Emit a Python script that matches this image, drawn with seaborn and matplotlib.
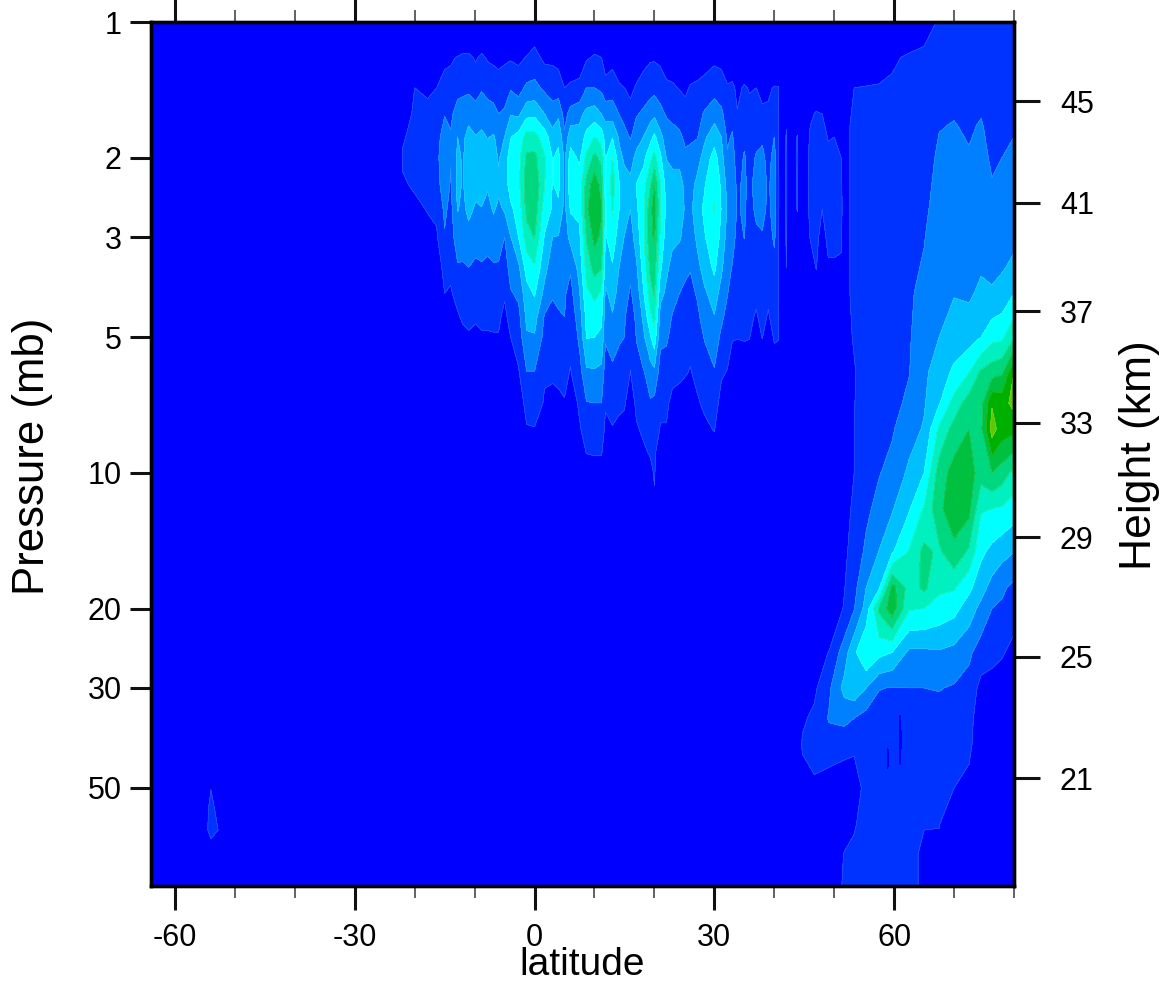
import numpy as np
import matplotlib
matplotlib.use("Agg")
import matplotlib.pyplot as plt
import seaborn as sns

LEVELS = [1, 2, 3, 4, 5, 6, 7, 8, 9, 10, 100]
BACKGROUND = "#0000FF"
FILL_COLOURS = ["#0033FF", "#0080FF", "#00BFFF", "#00FFFF", "#00F0C0",
                "#00D880", "#00C040", "#00B000", "#60C800", "#60C800"]

PRESSURE_TICKS = [1, 2, 3, 5, 10, 20, 30, 50]
LAT_MAJOR = [-60, -30, 0, 30, 60]
LAT_MINOR = [-50, -40, -20, -10, 10, 20, 40, 50, 70, 80]
HEIGHT_LABELS = [45, 41, 37, 33, 29, 25, 21]
HEIGHT_PRESSURE = [1.50, 2.52, 4.38, 7.74, 13.9, 25.6, 47.6]

# Tropical band: one list per latitude, top (low pressure) to bottom
TROPIC_P = [1.05, 1.2, 1.4, 1.6, 1.8, 2, 2.3, 2.6, 3, 3.5, 4, 4.5, 5, 6, 7, 8, 9, 10, 11, 12]
TROPIC_LAT = [-23, -22, -20, -17.83, -16.33, -15, -14, -12.83, -12, -11, -9.83, -8.83, -7.83,
              -6.83, -6, -5, -4, -2.67, -1.33, 0, 1.67, 3, 4, 5, 6, 7.5, 8.67, 10, 11.17, 11.83,
              13, 14.17, 15, 16, 17, 18.17, 19.33, 20, 21, 22, 23, 24.17, 25.17, 26, 27.17, 28.33,
              30, 31.17, 32.17, 33, 33.83, 35, 35.83, 37, 38, 39, 40, 40.67, 41.33, 42, 42.67,
              43.83, 44.5, 45.33, 46, 47, 48, 49, 50, 51.17, 51.83]
TROPIC_VALUES = [
    [0],
    [0, 0, 0, .4, .9, 1.1, .9, .3],
    [0, .2, 1.0, 1.2, 1.3, 1.3, 1.1, .8, .2],
    [0, 0, .9, 1.15, 1.3, 1.4, 1.3, 1.05, .7, .2],
    [0, 0, 1.0, 1.3, 1.6, 1.7, 1.5, 1.15, .9, .3],
    [0, .7, 1.5, 1.95, 2.5, 2.8, 2.7, 2.2, 1.9, 1.4, 1.0, .5],
    [0, .9, 1.3, 1.8, 2.1, 2.05, 1.9, 1.7, 1.6, 1.2, .9, .4],
    [0, 1.05, 1.7, 2.4, 3.0, 3.2, 3.3, 3.05, 2.5, 1.9, 1.3, .9, .3],
    [0, 1.2, 1.8, 2.4, 2.8, 2.9, 2.9, 2.8, 2.4, 1.9, 1.4, 1.15, .7, .1],
    [0, 1.2, 1.8, 2.7, 3.3, 3.5, 3.5, 3.2, 2.7, 2.0, 1.5, 1.2, .9, .2],
    [0, .9, 1.6, 2.4, 3.05, 3.4, 3.2, 2.9, 2.4, 1.8, 1.4, 1.1, .8],
    [0, 1.2, 1.9, 2.6, 3.2, 3.5, 3.4, 2.95, 2.4, 1.9, 1.4, 1.2, .9],
    [0, .9, 1.7, 2.4, 2.95, 3.4, 3.1, 2.7, 2.3, 1.8, 1.4, 1.2, .9],
    [0, .8, 1.6, 2.3, 3.1, 3.4, 3.3, 3.1, 2.5, 1.9, 1.4, 1.15, .95, .2],
    [0, .7, 1.5, 2.0, 2.6, 2.9, 3.2, 2.8, 2.4, 1.9, 1.4, 1.15, .95],
    [0, .8, 1.7, 2.1, 3.0, 3.4, 3.5, 3.1, 2.0, 1.5, 1.1, .8, .4],
    [0, .9, 1.9, 2.95, 3.95, 4.5, 4.4, 3.8, 2.95, 2.4, 1.9, 1.3, 1.0, .5],
    [0, .8, 1.6, 2.8, 4.4, 4.7, 4.7, 4.4, 4.0, 2.8, 2.2, 1.7, 1.4, .9, .3],
    [.3, 1.05, 2.2, 3.7, 5.4, 6.2, 6.6, 6.3, 5.5, 4.4, 3.6, 3.2, 2.9, 1.95, 1.4, .9, .3],
    [.6, 1.3, 2.3, 3.8, 5.4, 6.3, 6.8, 6.6, 6.05, 4.9, 4.1, 3.4, 2.9, 1.95, 1.5, .95, .3],
    [0, .8, 1.8, 3.0, 4.5, 5.1, 5.05, 4.5, 3.9, 3.3, 2.7, 1.9, 1.7, 1.1, .9, .3],
    [0, .8, 1.6, 2.4, 3.4, 3.95, 3.95, 3.9, 3.0, 2.5, 2.05, 1.85, 1.6, 1.1, .8, .2],
    [0, .7, 1.5, 2.8, 3.8, 4.2, 4.2, 3.8, 2.95, 2.5, 2.2, 1.9, 1.6, 1.2, .8, .2],
    [0, .4, 1.0, 1.6, 2.2, 2.8, 2.85, 2.7, 2.5, 2.3, 2.1, 2.0, 1.7, 1.2, .95, .3],
    [0, .6, 1.1, 2.4, 3.6, 4.4, 4.7, 4.1, 3.3, 2.1, 1.7, 1.4, 1.2, .95, .5],
    [0, .6, 1.2, 2.7, 3.4, 3.8, 4.5, 4.2, 3.8, 3.4, 2.9, 2.5, 2.2, 1.6, 1.15, .9, .4],
    [0, .9, 2.0, 3.3, 4.3, 5.3, 6.4, 6.8, 6.1, 5.4, 4.8, 4.3, 4.05, 2.8, 1.95, 1.4, 1.05, .3],
    [.4, 1.1, 2.0, 3.5, 5.0, 6.3, 7.6, 7.9, 7.3, 6.4, 5.2, 4.6, 4.0, 2.85, 2.0, 1.5, 1.1, .5],
    [0, 1.0, 1.8, 3.0, 4.6, 5.7, 6.7, 7.1, 6.8, 6.05, 4.9, 4.2, 3.8, 2.7, 2.0, 1.5, 1.1, .4],
    [0, .6, 1.3, 2.7, 3.6, 3.9, 3.9, 3.9, 3.9, 3.5, 2.8, 2.4, 2.1, 1.5, 1.1, .8, .3],
    [0, .7, 1.5, 2.6, 3.95, 5.05, 5.5, 5.1, 4.5, 3.9, 3.4, 2.9, 2.4, 1.8, 1.25, .95, .3],
    [0, .5, 1.1, 1.95, 2.8, 3.3, 4.0, 3.95, 3.5, 2.95, 2.6, 2.3, 2.1, 1.6, 1.15, .8, .2],
    [0, .3, 1.0, 1.6, 2.4, 2.8, 3.5, 3.5, 2.95, 2.6, 2.3, 2.1, 2.0, 1.4, 1.1, .7],
    [0, 0, .8, 1.3, 1.9, 2.7, 3.2, 3.0, 2.6, 2.2, 1.9, 1.5, 1.2, .98, .5],
    [0, .5, 1.1, 1.9, 2.7, 3.2, 4.05, 3.8, 3.4, 2.85, 2.4, 2.2, 2.05, 1.6, 1.2, .9, .3],
    [0, .7, 1.4, 2.2, 3.0, 3.7, 4.6, 4.8, 4.8, 4.4, 3.9, 3.2, 2.8, 1.9, 1.5, 1.15, .85, .3],
    [0, .9, 1.6, 2.6, 3.7, 4.8, 6.0, 6.7, 6.8, 6.3, 5.6, 4.8, 3.9, 2.5, 1.9, 1.5, 1.1, .7],
    [.1, .9, 1.7, 2.8, 4.2, 5.4, 7.1, 7.6, 7.1, 6.5, 6.1, 5.4, 4.6, 2.7, 1.75, 1.4, 1.2, 1.1, .95],
    [0, .8, 1.5, 2.3, 3.3, 4.2, 5.1, 5.1, 4.8, 4.2, 3.3, 2.6, 2.2, 1.6, 1.15, .95, .3],
    [0, .5, 1.2, 1.9, 2.5, 2.95, 3.6, 3.8, 3.5, 3.2, 2.8, 2.4, 2.15, 1.5, 1.15, .95, .3],
    [0, .4, 1.15, 1.8, 2.3, 2.8, 3.3, 3.4, 3.2, 2.7, 2.3, 1.95, 1.7, 1.2, .8, .3],
    [0, .3, .95, 1.6, 2.2, 2.8, 3.3, 3.4, 3.1, 2.5, 2.0, 1.8, 1.5, 1.1, .8, .3],
    [0, .2, .8, 1.4, 1.8, 2.2, 2.8, 2.9, 2.7, 2.2, 1.8, 1.5, 1.3, 1.05, .6],
    [0, .3, 1.1, 1.4, 1.9, 2.2, 2.6, 2.8, 2.5, 2.05, 1.75, 1.4, 1.2, .95, .5],
    [0, .4, 1.2, 1.6, 1.95, 2.6, 3.3, 3.5, 3.2, 2.7, 2.1, 1.8, 1.5, 1.2, .9, .4],
    [0, .5, 1.4, 2.1, 2.8, 3.4, 3.9, 4.2, 3.9, 3.4, 2.8, 2.4, 2.05, 1.5, 1.15, .8, .3],
    [0, .8, 1.6, 2.6, 3.6, 4.4, 4.9, 5.05, 4.7, 4.2, 3.5, 2.95, 2.5, 1.9, 1.4, 1.05, .6, .1],
    [0, .7, 1.5, 2.2, 3.0, 3.4, 3.8, 3.95, 3.7, 3.2, 2.6, 2.2, 1.8, 1.1, .7, .2],
    [0, .4, 1.1, 1.5, 1.85, 2.1, 2.7, 2.9, 2.6, 2.3, 2.05, 1.7, 1.4, .95, .4],
    [0, .3, 1.2, 1.7, 2.1, 2.4, 2.6, 2.7, 2.4, 1.95, 1.5, 1.2, 1.05, .6],
    [0, 0, .8, 1.05, 1.3, 1.5, 1.8, 1.9, 1.7, 1.4, 1.2, 1.1, 1.02, .6],
    [0, .3, 1.1, 1.4, 1.8, 2.1, 2.2, 2.15, 2.02, 1.6, 1.3, 1.15, 1.05, .6],
    [0, .1, .95, 1.2, 1.4, 1.6, 1.7, 1.65, 1.5, 1.3, 1.2, 1.1, 1.03, .5],
    [0, .2, 1.0, 1.3, 1.7, 2.1, 2.4, 2.2, 1.8, 1.4, 1.1, .95, .6],
    [0, 0, .7, 1.2, 1.8, 2.3, 2.5, 2.3, 1.9, 1.5, 1.3, 1.15, 1.03, .4],
    [0, .1, .9, 1.1, 1.3, 1.6, 1.8, 1.8, 1.5, 1.3, 1.1, .95, .5],
    [0, .3, 1.05, 1.5, 2.0, 2.4, 2.6, 2.4, 2.2, 1.6, 1.3, 1.2, 1.1, .5],
    [0, .2, 1.05, 1.1, 1.1, 1.1, 1.2, 1.2, 1.1, 1.1, 1.1, 1.1, 1.05, .4],
    [0],
    [0, 0, 0, .8, 1.1, 1.2, 1.2, 1.2, 1.1, 1.0, .5],
    [0],
    [0, 0, 0, .5, 1.05, 1.2, 1.1, 1.05, .5],
    [0],
    [0, 0, 0, .5, .7, .7, .7, .7, .6, .3],
    [0, 0, 0, .9, 1.1, 1.2, 1.3, 1.2, 1.05, .5],
    [0, 0, .6, 1.05, 1.3, 1.4, 1.4, 1.3, 1.2, 1.05, .5],
    [0, 0, .5, 1.0, 1.3, 1.4, 1.2, 1.0, .7, .2],
    [0, 0, 0, .7, .95, 1.2, 1.3, 1.4, 1.2, .9, .3],
    [0, 0, 0, .8, 1.0, 1.2, 1.3, 1.4, 1.2, .9, .3],
    [0, 0, 0, .4, .8, 1.0, 1.2, 1.3, 1.1, .9, .3],
    [0],
]

# Polar band: one list per latitude, top to bottom
POLAR_P = [1, 1.2, 1.4, 1.7, 2, 2.5, 3, 3.5, 4, 5, 6, 7, 8, 10, 12, 15, 18, 20, 25, 30, 35, 40, 50, 60, 70, 83]
POLAR_LAT = [43.67, 44.67, 46.67, 49.17, 51.67, 53.33, 55.33, 57.5, 59.67, 62.5, 65, 67.5, 70,
             72.5, 74.5, 76.33, 78, 80]
POLAR_VALUES = [
    [0] * 26,
    [0] * 19 + [.3, .85, 1.1, .6, 0, 0, 0],
    [0] * 18 + [.4, .8, 1.2, 1.4, .8, 0, 0, 0],
    [0] * 18 + [1.05, 1.85, 2.1, 1.5, .5, 0, 0, 0],
    [0, 0, .5, .8, .8, .8, .8, .8, .8, .8, .8, .8, .8, .8, .8, .8, .95, 1.1, 2.5, 3.3, 2.3, 1.3, .4, .3, 1.05, 1.2],
    [0, .2, 1.0, 1.15, 1.15, 1.15, 1.15, 1.15, 1.15, 1.05, .95, .98, 1.0, 1.0, 1.1, 1.4, 1.7, 1.95, 3.8, 3.7, 2.0, 1.1, .7, .95, 1.1, 1.1],
    [0, .3, 1.05, 1.1, 1.1, 1.15, 1.2, 1.2, 1.25, 1.25, 1.3, 1.3, 1.4, 1.6, 1.8, 2.2, 3.0, 3.4, 5.0, 3.0, 1.6, 1.3, 1.2, 1.2, 1.2, 1.2],
    [0, .4, 1.1, 1.2, 1.2, 1.25, 1.3, 1.3, 1.35, 1.4, 1.45, 1.5, 1.6, 1.95, 2.3, 3.05, 3.9, 6.2, 4.3, 2.05, 1.4, 1.3, 1.3, 1.3, 1.3, 1.3],
    [.2, .9, 1.1, 1.2, 1.25, 1.3, 1.35, 1.4, 1.45, 1.5, 1.55, 1.7, 1.9, 2.3, 2.9, 3.9, 7.4, 7.6, 4.0, 1.95, 1.5, 1.4, 1.3, 1.3, 1.3, 1.3],
    [.4, 1.1, 1.2, 1.3, 1.4, 1.55, 1.65, 1.75, 1.85, 1.9, 1.97, 2.2, 2.6, 3.2, 3.9, 5.1, 5.6, 5.1, 2.8, 2.0, 1.6, 1.4, 1.3, 1.3, 1.3, 1.3],
    [.8, 1.1, 1.2, 1.35, 1.5, 1.75, 1.95, 2.1, 2.3, 2.6, 2.8, 2.9, 3.1, 4.0, 5.1, 6.3, 6.2, 5.0, 2.8, 2.0, 1.6, 1.4, 1.2, 1.05, .8, .8],
    [1.05, 1.2, 1.5, 1.95, 2.2, 2.4, 2.6, 2.7, 2.8, 3.0, 3.5, 3.9, 5.2, 6.5, 6.8, 5.8, 5.2, 4.6, 2.9, 2.05, 1.6, 1.4, 1.2, 1.05, .7, .5],
    [1.1, 1.3, 1.7, 2.05, 2.2, 2.4, 2.6, 2.8, 2.95, 3.5, 4.2, 5.4, 6.4, 7.4, 7.6, 6.7, 5.1, 4.3, 2.7, 1.9, 1.5, 1.3, 1.0, .2, 0, 0],
    [1.1, 1.3, 1.6, 1.85, 2.1, 2.25, 2.4, 2.6, 2.85, 3.6, 5.0, 6.5, 7.0, 7.6, 7.3, 5.8, 4.2, 3.5, 2.2, 1.6, 1.4, 1.3, .6, 0, 0, 0],
    [1.2, 1.4, 1.6, 2.1, 2.3, 2.5, 2.7, 2.9, 3.2, 4.0, 6.2, 6.6, 6.8, 6.4, 5.1, 4.2, 3.4, 2.7, 1.5, .7, .3, .1, 0, 0, 0, 0],
    [1.2, 1.3, 1.4, 1.6, 1.85, 2.2, 2.5, 2.8, 3.1, 4.7, 6.6, 8.9, 9.4, 7.0, 5.0, 3.7, 2.6, 2.0, 1.3, .6, .2, 0, 0, 0, 0, 0],
    [1.2, 1.3, 1.5, 1.7, 2.0, 2.3, 2.6, 2.9, 3.4, 4.8, 6.9, 8.6, 8.5, 6.5, 4.9, 3.3, 2.2, 1.8, 1.1, .5, .2, 0, 0, 0, 0, 0],
    [1.3, 1.4, 1.6, 1.9, 2.2, 2.5, 2.8, 3.2, 4.0, 5.9, 9.0, 9.3, 8.3, 5.7, 4.5, 3.0, 1.7, 1.4, .7, .3, 0, 0, 0, 0, 0, 0],
]

# Isolated patch near 54S
PATCH_LAT = [-55.17, -54, -52.5]
PATCH_P = [48, 50.5, 56, 62, 69]
PATCH_VALUES = [
    [0, 0, .5, .5, 0],
    [.5, 1.0, 1.3, 1.4, .4],
    [0, 0, .6, .9, 0],
]

# Two narrow holes inside the polar band near 59N and 61N
HOLE_A_LAT = [60.5, 61, 61.5]
HOLE_A_P = [32.7, 35, 39, 43.7, 46.6]
HOLE_A_VALUES = [[0, 0, 0, 0, 0], [0, 1.3, 1.5, 1.3, 0], [0, 0, 0, 0, 0]]
HOLE_B_LAT = [58.7, 58.95, 59.2]
HOLE_B_P = [39, 41, 43, 45, 47.4]
HOLE_B_VALUES = [[0, 0, 0, 0, 0], [0, 1.1, 1.5, 1.1, 0], [0, 0, 0, 0, 0]]

sns.set_style("white")
plt.rcParams["font.family"] = ["Liberation Sans", "DejaVu Sans"]
plt.rcParams["text.color"] = "black"
fills = sns.color_palette(FILL_COLOURS)

W, H = 1170, 986
fig = plt.figure(figsize=(W / 100, H / 100), dpi=100)
ax = fig.add_axes([151 / W, 1 - 886 / H, 863 / W, 864 / H])
ax.set_facecolor(BACKGROUND)


def draw(lat, pres, columns, n):
    table = np.array([list(c) + [0] * (n - len(c)) for c in columns], dtype=float).T
    ax.contourf(lat, pres, table, levels=LEVELS, colors=fills)
    ax.contour(lat, pres, table, levels=LEVELS[:-1], colors="white", linewidths=0.4, alpha=0.22)


draw(TROPIC_LAT, TROPIC_P, TROPIC_VALUES, len(TROPIC_P))
draw(POLAR_LAT, POLAR_P, POLAR_VALUES, len(POLAR_P))
draw(PATCH_LAT, PATCH_P, PATCH_VALUES, len(PATCH_P))
for hole_lat, hole_p, hole_v in [(HOLE_A_LAT, HOLE_A_P, HOLE_A_VALUES), (HOLE_B_LAT, HOLE_B_P, HOLE_B_VALUES)]:
    ax.contourf(hole_lat, hole_p, np.array(hole_v).T, levels=[1, 100], colors=[BACKGROUND])

ax.set_yscale("log")
ax.set_ylim(82.5, 1)
ax.set_xlim(-64, 79.85)
ax.yaxis.set_minor_locator(matplotlib.ticker.NullLocator())
ax.set_yticks(PRESSURE_TICKS)
ax.set_yticklabels([str(p) for p in PRESSURE_TICKS])
ax.set_xticks(LAT_MAJOR)
ax.set_xticklabels([str(v) for v in LAT_MAJOR])
ax.set_xticks(LAT_MINOR, minor=True)
ax.tick_params(axis="x", which="major", direction="out", length=17, width=2.2, color="#111111",
               top=True, bottom=True, labelsize=22, pad=10, labelcolor="black")
ax.tick_params(axis="x", which="minor", direction="out", length=8.5, width=1.3, color="#555555",
               top=True, bottom=True)
ax.tick_params(axis="y", which="major", direction="out", length=15, width=2.2, color="#111111",
               left=True, right=False, labelsize=22, pad=6, labelcolor="black")

right = ax.twinx()
right.set_yscale("log")
right.set_ylim(82.5, 1)
right.yaxis.set_minor_locator(matplotlib.ticker.NullLocator())
right.set_yticks(HEIGHT_PRESSURE)
right.set_yticklabels([str(h) for h in HEIGHT_LABELS])
right.tick_params(axis="y", which="major", direction="out", length=19, width=2.2, color="#111111",
                  labelsize=22, pad=14, labelcolor="black")

for a in (ax, right):
    for s in a.spines.values():
        s.set_linewidth(2.4)
        s.set_color("black")
        s.set_visible(True)

fig.text(582 / W, 1 - 965 / H, "latitude", fontsize=28, ha="center", va="center", color="black")
fig.text(33 / W, 1 - 456 / H, "Pressure (mb)", fontsize=31.5, rotation=90, ha="center", va="center", color="black")
fig.text(1140 / W, 1 - 455 / H, "Height (km)", fontsize=32, rotation=90, ha="center", va="center", color="black")

fig.savefig("out.png", dpi=100)
